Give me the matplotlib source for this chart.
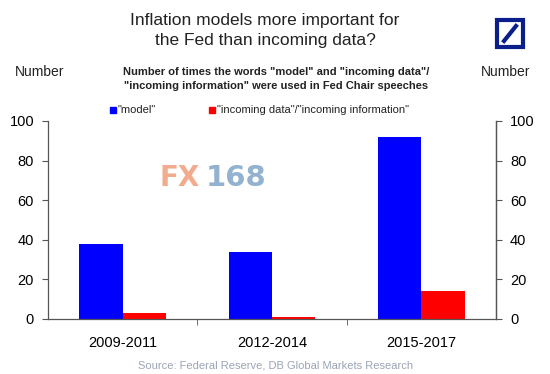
import matplotlib
matplotlib.use("Agg")
import matplotlib.pyplot as plt
import numpy as np
from matplotlib.patches import Rectangle
from matplotlib.lines import Line2D

plt.rcParams['font.family'] = ['Liberation Sans', 'DejaVu Sans']

categories = ["2009-2011", "2012-2014", "2015-2017"]
model = [38, 34, 92]
incoming = [3, 1, 14]
series_labels = ['"model"', '"incoming data"/"incoming information"']
yticks = [0, 20, 40, 60, 80, 100]

W, H = 550, 374
fig = plt.figure(figsize=(W / 100, H / 100), dpi=100)
ax = fig.add_axes([48 / W, 1 - 319 / H, (496 - 48) / W, (319 - 121) / H])

x = np.arange(len(categories))
bw = 0.29
ax.bar(x - bw / 2, model, bw, color="#0000ff", zorder=2)
ax.bar(x + bw / 2, incoming, bw, color="#ff0000", zorder=2)

ax.set_xlim(-0.5, len(categories) - 0.5)
ax.set_ylim(0, 100)
ax.set_yticks(yticks)
ax.set_xticks(x)
ax.set_xticklabels(categories, fontsize=10.5)
ax.tick_params(axis="x", length=0, pad=12)
ax.set_xticks(np.arange(0.5, len(categories) - 0.5, 1), minor=True)
ax.tick_params(axis="x", which="minor", length=4, color="#555555", direction="out")
ax.tick_params(axis="y", labelsize=10.5, length=4, color="#555555", pad=6)
ax.spines["top"].set_visible(False)
for s in ["left", "right", "bottom"]:
    ax.spines[s].set_color("#555555")
    ax.spines[s].set_linewidth(0.9)

ax2 = ax.twinx()
ax2.set_ylim(0, 100)
ax2.set_yticks(yticks)
ax2.tick_params(axis="y", labelsize=10.5, length=4, color="#555555", pad=6)
ax2.spines["top"].set_visible(False)
ax2.spines["right"].set_color("#555555")
ax2.spines["right"].set_linewidth(0.9)
ax2.spines["left"].set_visible(False)
ax2.spines["bottom"].set_visible(False)

# Titles
fig.text(265 / W, 1 - 21 / H, "Inflation models more important for", ha="center", va="center", fontsize=12.5, color="#222222")
fig.text(265 / W, 1 - 40 / H, "the Fed than incoming data?", ha="center", va="center", fontsize=12.5, color="#222222")
fig.text(276 / W, 1 - 72 / H, 'Number of times the words "model" and "incoming data"/', ha="center", va="center", fontsize=8, fontweight="bold", color="#222222")
fig.text(276 / W, 1 - 86 / H, '"incoming information" were used in Fed Chair speeches', ha="center", va="center", fontsize=8, fontweight="bold", color="#222222")
fig.text(40 / W, 1 - 72 / H, "Number", ha="center", va="center", fontsize=10, color="#222222")
fig.text(506 / W, 1 - 72 / H, "Number", ha="center", va="center", fontsize=10, color="#222222")

# Legend
fig.patches.append(Rectangle((110 / W, 1 - 113 / H), 6 / W, 6 / H, transform=fig.transFigure, color="#0000ff"))
fig.text(118 / W, 1 - 110 / H, series_labels[0], ha="left", va="center", fontsize=8, color="#222222")
fig.patches.append(Rectangle((209 / W, 1 - 113 / H), 6 / W, 6 / H, transform=fig.transFigure, color="#ff0000"))
fig.text(217 / W, 1 - 110 / H, series_labels[1], ha="left", va="center", fontsize=8, color="#222222")

# Watermark
fig.text(180 / W, 1 - 178 / H, "FX", ha="center", va="center", fontsize=20, fontweight="bold", color="#f2ab8c", family=["DejaVu Sans"])
fig.text(236 / W, 1 - 178 / H, "168", ha="center", va="center", fontsize=21, fontweight="bold", color="#92b2cf", family=["DejaVu Sans"])

# Logo
fig.patches.append(Rectangle((497 / W, 1 - 47 / H), 26 / W, 27 / H, transform=fig.transFigure,
                             fill=False, edgecolor="#0a1e8c", linewidth=3))
fig.lines.append(Line2D([504 / W, 516 / W], [1 - 41 / H, 1 - 26 / H], transform=fig.transFigure,
                        color="#0a1e8c", linewidth=3))

# Source
fig.text(276 / W, 1 - 366 / H, "Source: Federal Reserve, DB Global Markets Research", ha="center", va="center", fontsize=8, color="#9aa4b6")

fig.savefig("out.png", dpi=100)
